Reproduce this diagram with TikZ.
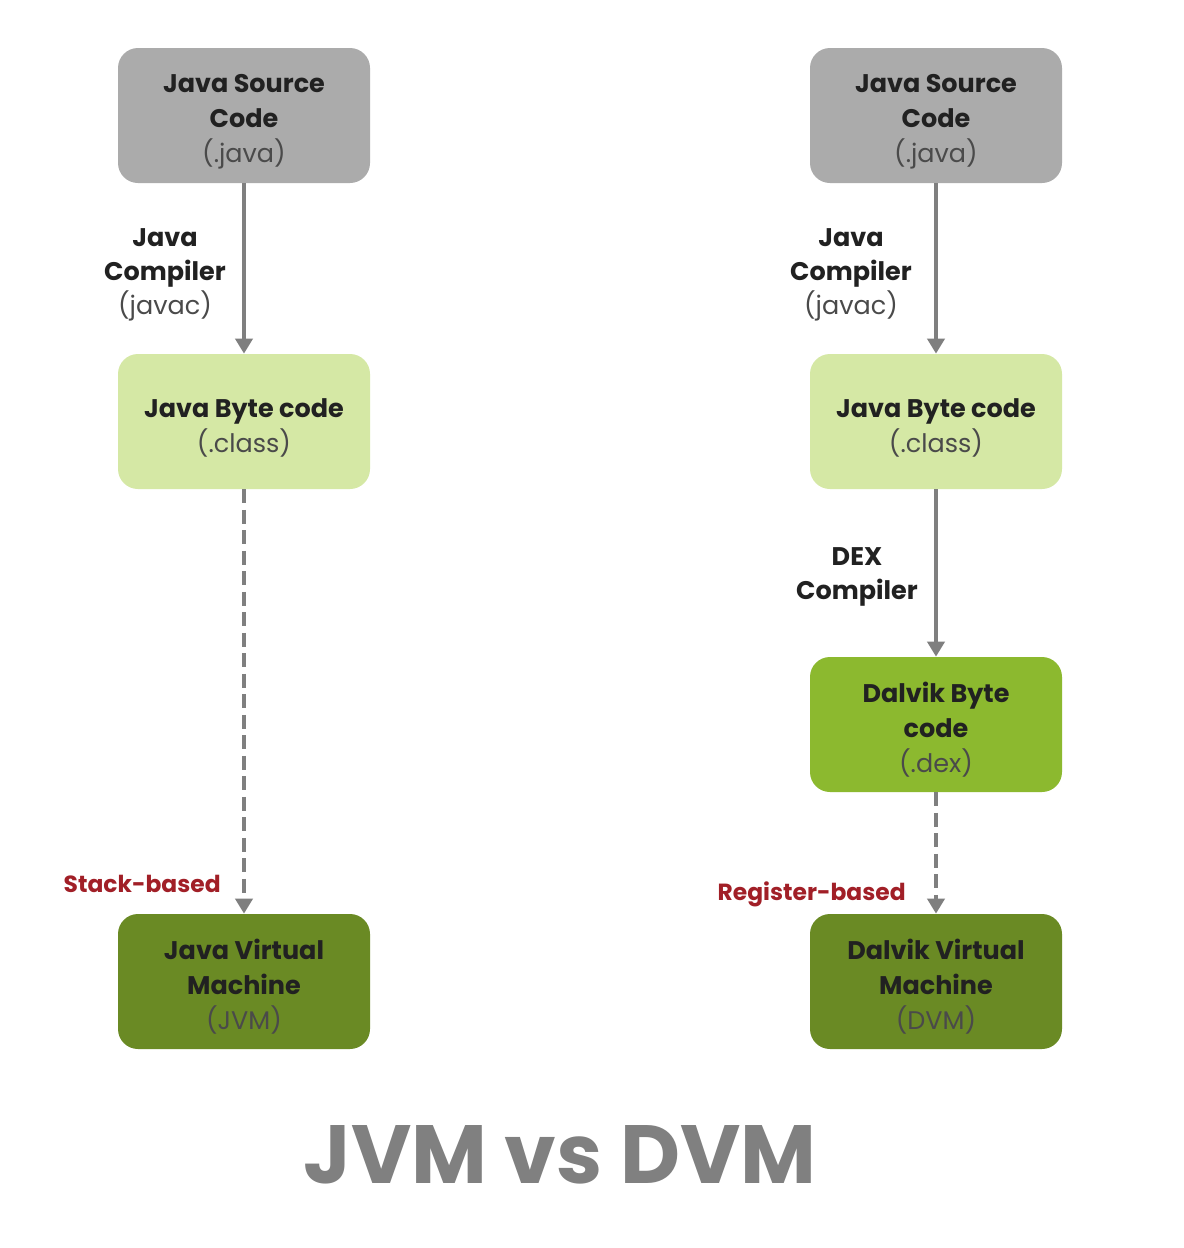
\documentclass[tikz,border=0pt]{standalone}
\usepackage{fontspec}
\setmainfont{Poppins}
\usepackage{tikz}
\usetikzlibrary{arrows.meta}
\definecolor{srcgray}{HTML}{ABABAB}
\definecolor{bytegreen}{HTML}{D5E8A5}
\definecolor{dexgreen}{HTML}{8CB92F}
\definecolor{vmgreen}{HTML}{6A8A24}
\definecolor{arrowgray}{HTML}{7F7F7F}
\definecolor{labelred}{HTML}{A11F27}
\definecolor{subgray}{HTML}{4A4A4A}
\definecolor{titlegray}{HTML}{808080}
\newcommand{\sub}[1]{\textmd{\color{subgray}#1}}
\newcommand{\lead}{\rule{0pt}{0.62cm}}

\begin{document}
\begin{tikzpicture}[>={Triangle[width=0.34cm,length=0.3cm]},
    stage/.style={rounded corners=0.4cm, minimum width=5.04cm, minimum height=2.7cm,
        align=center, font=\fontsize{14.5}{19.8}\selectfont\bfseries, text=black!87},
    flow/.style={->, line width=2.3pt, draw=arrowgray},
    jump/.style={flow, dash pattern=on 0.28cm off 0.13cm},
    tool/.style={align=center, font=\fontsize{14.5}{19.5}\selectfont\bfseries, text=black!87},
    kind/.style={anchor=east, inner sep=0pt, font=\fontsize{13.3}{16}\selectfont\bfseries, text=labelred}]
    \useasboundingbox[fill=white] (0,0) rectangle (23.68,-24.96);
    % JVM side
    \node[stage, fill=srcgray] (jsrc) at (4.88,-2.31) {\lead Java Source\\Code\\\sub{(.java)}};
    \node[stage, fill=bytegreen] (jbyte) at (4.88,-8.43) {\lead Java Byte code\\\sub{(.class)}};
    \node[stage, fill=vmgreen] (jvm) at (4.88,-19.63) {\lead Java Virtual\\Machine\\\sub{(JVM)}};
    \draw[flow] (jsrc) -- (jbyte);
    \draw[jump] (jbyte) -- (jvm);
    \node[tool] (javac) at (3.3,-5.5) {Java\\Compiler\\\sub{(javac)}};
    \node[kind] (stack) at (4.42,-17.68) {Stack-based};
    % DVM side
    \node[stage, fill=srcgray] (dsrc) at (18.72,-2.31) {\lead Java Source\\Code\\\sub{(.java)}};
    \node[stage, fill=bytegreen] (dbyte) at (18.72,-8.43) {\lead Java Byte code\\\sub{(.class)}};
    \node[stage, fill=dexgreen] (dex) at (18.72,-14.49) {\lead Dalvik Byte\\code\\\sub{(.dex)}};
    \node[stage, fill=vmgreen] (dvm) at (18.72,-19.63) {\lead Dalvik Virtual\\Machine\\\sub{(DVM)}};
    \draw[flow] (dsrc) -- (dbyte);
    \draw[flow] (dbyte) -- (dex);
    \draw[jump] (dex) -- (dvm);
    \node[tool] (dvmjavac) at (17.02,-5.5) {Java\\Compiler\\\sub{(javac)}};
    \node[tool] (dexc) at (17.14,-11.54) {DEX\\Compiler};
    \node[kind] (register) at (18.12,-17.88) {Register-based};
    % title
    \node[font=\fontsize{47}{50}\selectfont\bfseries, text=titlegray] (title) at (11.2,-23.1) {JVM vs DVM};
\end{tikzpicture}
\end{document}
